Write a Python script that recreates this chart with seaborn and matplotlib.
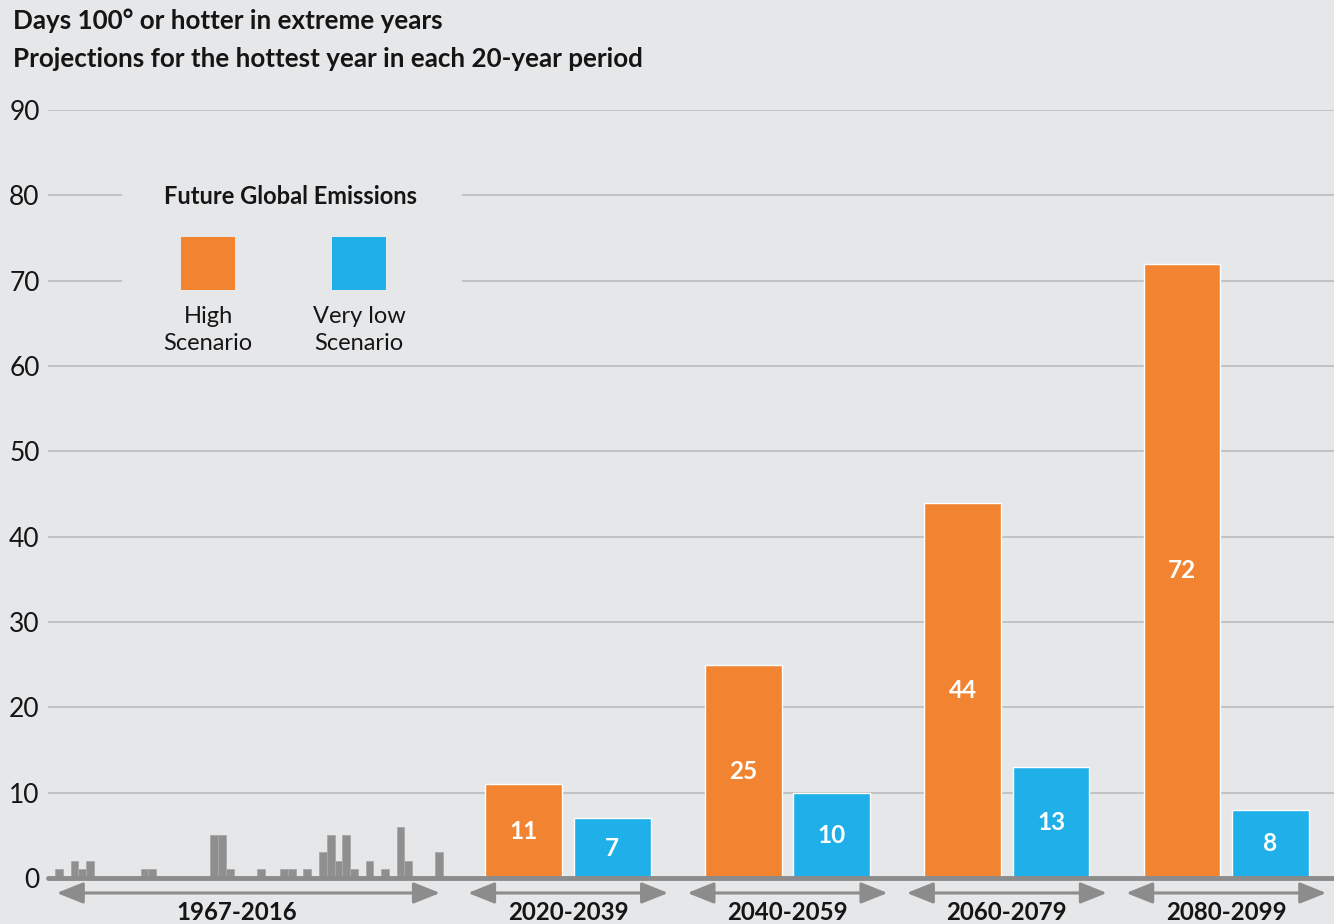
import pandas as pd
import matplotlib
matplotlib.use('Agg')
import matplotlib.pyplot as plt
from matplotlib.patches import Rectangle
import seaborn as sns

# observed days at or above 100 degrees, 1967-2016
hist_years = list(range(1967, 2017))
hist_days = [1, 0, 2, 1, 2, 0, 0, 0, 0, 0,
             0, 1, 1, 0, 0, 0, 0, 0, 0, 0,
             5, 5, 1, 0, 0, 0, 1, 0, 0, 1,
             1, 0, 1, 0, 3, 5, 2, 5, 1, 0,
             2, 0, 1, 0, 6, 2, 0, 0, 0, 3]

# projections for the hottest year of each 20-year period
periods = ['2020-2039', '2040-2059', '2060-2079', '2080-2099']
high_scenario = [11, 25, 44, 72]
very_low_scenario = [7, 10, 13, 8]

bg = '#e6e7e9'
orange = '#f28431'
blue = '#1fb0e9'
gray = '#8f8f8f'
ink = '#151515'

sns.set_style('white')
plt.rcParams['font.family'] = ['Lato', 'DejaVu Sans']

W, H = 1334, 924
fig = plt.figure(figsize=(W / 100, H / 100), dpi=100)
fig.patch.set_facecolor(bg)
ax = fig.add_axes([48 / W, 1 - 878 / H, 1 - 48 / W, (878 - 110) / H])
ax.set_facecolor(bg)

# historical bars
hist = pd.DataFrame({'year': hist_years, 'days': hist_days})
sns.barplot(data=hist, x='year', y='days', native_scale=True, width=1,
            color=gray, saturation=1, errorbar=None,
            edgecolor='#a8a8a8', linewidth=0.6, ax=ax)

# projection bars, one group per period
centers = [2032.6 + 28.27 * i for i in range(len(periods))]
bw, off = 9.9, 5.7
b_hi = ax.bar([c - off for c in centers], high_scenario, width=bw, color=orange, zorder=2)
b_lo = ax.bar([c + off for c in centers], very_low_scenario, width=bw, color=blue, zorder=2)
for bars in (b_hi, b_lo):
    ax.bar_label(bars, label_type='center', color='white', fontsize=17.5, fontweight='bold')

ax.set_xlim(1965.58, 2131.3)
ax.set_ylim(0, 90)
ax.set_yticks(range(0, 91, 10))
ax.set_xticks([])
ax.set_xlabel('')
ax.set_ylabel('')
ax.tick_params(axis='y', length=0, pad=6, labelsize=19, labelcolor=ink)
ax.yaxis.grid(True, color='#c2c2c2', linewidth=1.4)
ax.set_axisbelow(True)
for s in ax.spines.values():
    s.set_visible(False)
ax.axhline(0, color='#8c8c8c', linewidth=3.5, zorder=3, clip_on=False)

# period arrows and labels under the axis (last value = where the label sits along the arrow)
trans = ax.get_xaxis_transform()
spans = [(1966.7, 2016.1, '1967-2016', 0.47)] + \
        [(c - 12.9, c + 12.9, p, 0.5) for c, p in zip(centers, periods)]
for x0, x1, lab, frac in spans:
    ax.annotate('', xy=(x0, -0.0195), xytext=(x1, -0.0195), xycoords=trans, textcoords=trans,
                arrowprops=dict(arrowstyle='<|-|>,head_length=0.9,head_width=0.36',
                                color='#8c8c8c', lw=2.2, mutation_scale=18,
                                shrinkA=0, shrinkB=0),
                annotation_clip=False)
    ax.text(x0 + frac * (x1 - x0), -0.0455, lab, transform=trans, ha='center', va='center',
            fontsize=17.3, fontweight='bold', color=ink, clip_on=False)

# titles
fig.text(13 / W, 1 - 21 / H, 'Days 100° or hotter in extreme years',
         fontsize=18.7, fontweight='bold', color=ink, va='center')
fig.text(13 / W, 1 - 59 / H, 'Projections for the hottest year in each 20-year period',
         fontsize=18.7, fontweight='bold', color=ink, va='center')

# legend block
fig.patches.append(Rectangle((122 / W, 1 - 358 / H), 340 / W, 178 / H,
                             transform=fig.transFigure, facecolor=bg,
                             edgecolor='none', zorder=5))
fig.text(291 / W, 1 - 197 / H, 'Future Global Emissions', fontsize=17,
         fontweight='bold', color=ink, ha='center', va='center', zorder=6)
for cx, col, lab in [(208, orange, 'High\nScenario'), (359, blue, 'Very low\nScenario')]:
    fig.patches.append(Rectangle(((cx - 27) / W, 1 - 290 / H), 54 / W, 53 / H,
                                 transform=fig.transFigure, facecolor=col,
                                 edgecolor='none', zorder=6))
    fig.text(cx / W, 1 - 330 / H, lab, fontsize=17, color=ink, ha='center',
             va='center', linespacing=1.35, zorder=6)

fig.savefig('out.png', dpi=100, facecolor=bg)
